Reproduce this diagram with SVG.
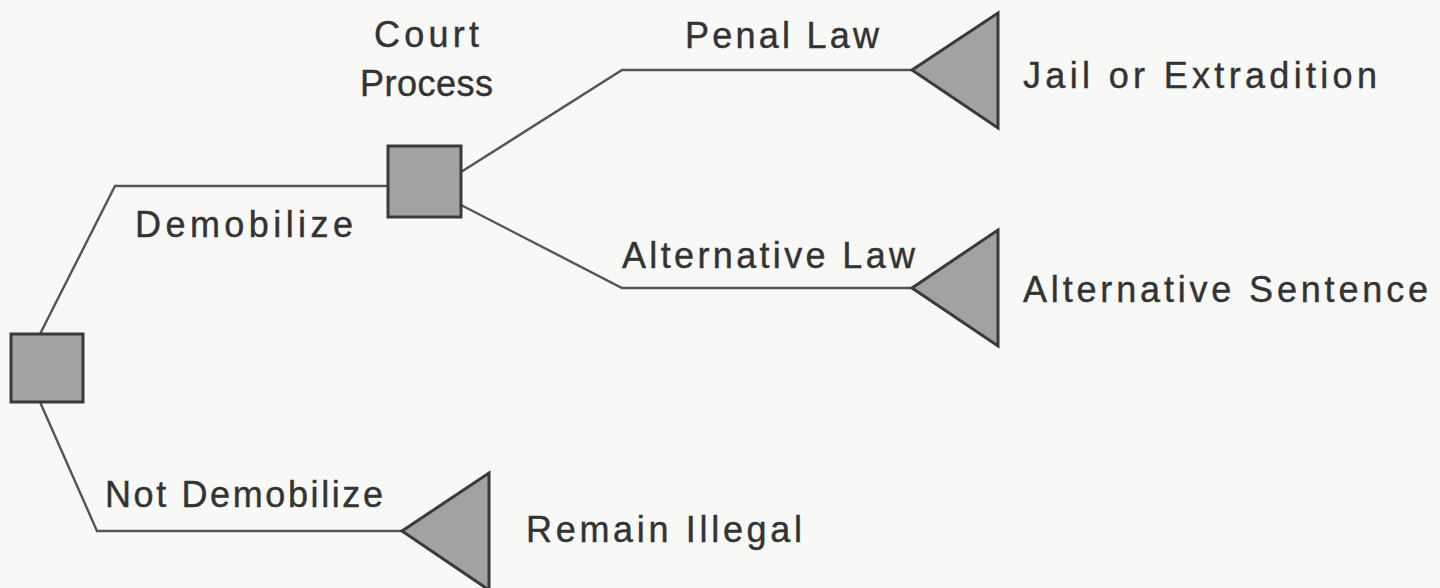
<svg xmlns="http://www.w3.org/2000/svg" width="1440" height="588" viewBox="0 0 1440 588">
<style>
.bg{fill:#f8f8f6}
.ln{fill:none;stroke:#555;stroke-width:2.4;stroke-linejoin:miter}
.nd{fill:#a2a2a2;stroke:#3a3a3a;stroke-width:3}
.tx{font-family:"Liberation Sans",Arial,sans-serif;font-size:36px;fill:#333;stroke:#333;stroke-width:0.4}
</style>
<rect class="bg" x="0" y="0" width="1440" height="588"/>
<g id="connectors">
<polyline class="ln" points="40,334 115,186 388,186"/>
<polyline class="ln" points="40,402 97,531 402,531"/>
<polyline class="ln" points="461,172 622,70 912,70"/>
<polyline class="ln" points="461,205 622,288 912,288"/>
</g>
<g id="root">
<rect class="nd" x="11" y="334" width="72" height="68"/>
</g>
<g id="court">
<rect class="nd" x="388" y="146" width="73" height="71"/>
<text class="tx" x="374" y="47" textLength="105" lengthAdjust="spacing">Court</text>
<text class="tx" x="360" y="96" textLength="133" lengthAdjust="spacing">Process</text>
</g>
<g id="jail">
<polygon class="nd" points="912,70 998,13 998,128"/>
<text class="tx" x="1023" y="88" textLength="354" lengthAdjust="spacing">Jail or Extradition</text>
</g>
<g id="altsentence">
<polygon class="nd" points="912,288 998,230 998,346"/>
<text class="tx" x="1023" y="302" textLength="405" lengthAdjust="spacing">Alternative Sentence</text>
</g>
<g id="illegal">
<polygon class="nd" points="402,531 489,473 489,590"/>
<text class="tx" x="526" y="542" textLength="276" lengthAdjust="spacing">Remain Illegal</text>
</g>
<g id="labels">
<text class="tx" x="135" y="237" textLength="218" lengthAdjust="spacing">Demobilize</text>
<text class="tx" x="105" y="507" textLength="278" lengthAdjust="spacing">Not Demobilize</text>
<text class="tx" x="685" y="48" textLength="194" lengthAdjust="spacing">Penal Law</text>
<text class="tx" x="622" y="268" textLength="293" lengthAdjust="spacing">Alternative Law</text>
</g>
</svg>
